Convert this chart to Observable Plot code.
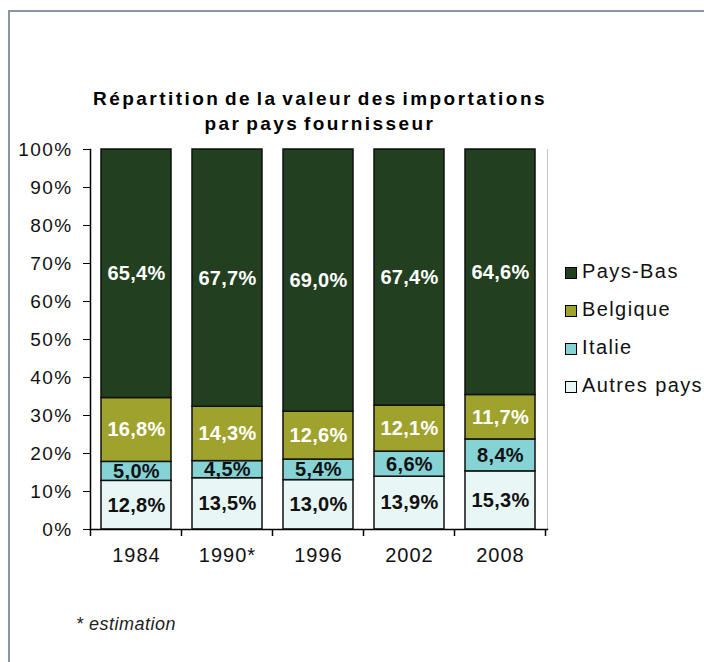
<!DOCTYPE html>
<html><head><meta charset="utf-8">
<script src="https://cdn.jsdelivr.net/npm/d3@7"></script>
<script src="https://cdn.jsdelivr.net/npm/@observablehq/plot@0.6"></script>
<style>
html,body{margin:0;padding:0;background:#fff;width:704px;height:662px;overflow:hidden;font-family:"Liberation Sans",Arial,sans-serif;}
#wrap{position:relative;width:704px;height:662px;overflow:hidden;}
#frame{position:absolute;left:8px;top:10px;width:900px;height:900px;border-left:2px solid #8b96a1;border-top:2px solid #8b96a1;}
#chart{position:absolute;left:0;top:0;}
#title{position:absolute;left:0;width:640px;top:86px;text-align:center;font-weight:bold;font-size:19px;line-height:25px;letter-spacing:2.45px;word-spacing:-3px;color:#000;}
#legend{position:absolute;left:565px;top:260px;}
.item{height:38px;display:flex;align-items:flex-start;white-space:nowrap;font-size:20px;letter-spacing:1.4px;color:#111;}
.sw{width:10px;height:10px;border:1px solid #000;margin-right:5px;margin-top:7px;flex:none;}
#caption{position:absolute;left:76px;top:614px;font-size:18px;font-style:italic;color:#222;letter-spacing:0.5px;}
</style></head>
<body><div id="wrap"><div id="frame"></div><div id="chart"></div>
<div id="title">Répartition de la valeur des importations<br>par pays fournisseur</div>
<div id="legend"></div>
<div id="caption">* estimation</div></div>
<script>
const years = ["1984", "1990*", "1996", "2002", "2008"];
const countries = ["Autres pays", "Italie", "Belgique", "Pays-Bas"];
const autres = [12.8, 13.5, 13.0, 13.9, 15.3];
const italie = [5.0, 4.5, 5.4, 6.6, 8.4];
const belgique = [16.8, 14.3, 12.6, 12.1, 11.7];
const paysBas = [65.4, 67.7, 69.0, 67.4, 64.6];
const colors = ["#e9f6f6", "#86d3d6", "#9fa32e", "#223f1f"];
const yTicks = [0, 10, 20, 30, 40, 50, 60, 70, 80, 90, 100];
const darkLabels = ["Autres pays", "Italie"];

const series = [autres, italie, belgique, paysBas];
const data = countries.flatMap((c, ci) => years.map((y, i) => ({year: y, country: c, value: series[ci][i]})));
const fmt = v => v.toFixed(1).replace(".", ",") + "%";

const plot = Plot.plot({
  width: 704, height: 600,
  marginTop: 149, marginBottom: 71, marginLeft: 90, marginRight: 157,
  x: {domain: years, paddingInner: 0.23, paddingOuter: 0.115, label: null},
  y: {domain: [0, 100], label: null},
  color: {domain: countries, range: colors},
  style: {fontFamily: "'Liberation Sans', Arial, sans-serif", color: "#111", background: "transparent"},
  marks: [
    Plot.barY(data, {x: "year", y: "value", fill: "country", stroke: "#111", strokeWidth: 1.5}),
    Plot.text(data, Plot.stackY({x: "year", y: "value", z: "country",
      text: d => darkLabels.includes(d.country) ? fmt(d.value) : "",
      fill: "#111", fontSize: 20, fontWeight: "bold"})),
    Plot.text(data, Plot.stackY({x: "year", y: "value", z: "country",
      text: d => darkLabels.includes(d.country) ? "" : fmt(d.value),
      fill: "#fff", fontSize: 20, fontWeight: "bold"})),
    Plot.frame({anchor: "right", stroke: "#c4c4c4"}),
    Plot.axisY({ticks: yTicks, tickFormat: d => d + "%", tickSize: 7, tickPadding: 11, fontSize: 19, stroke: "#000", label: null}),
    Plot.frame({anchor: "left", stroke: "#000", strokeWidth: 1.5}),
    Plot.frame({anchor: "bottom", stroke: "#000", strokeWidth: 1.5}),
    Plot.axisX({tickSize: 0, tickPadding: 18, fontSize: 20, label: null})
  ]
});
document.getElementById("chart").appendChild(plot);

// boundary ticks on the category axis, from the library's x scale
const sx = plot.scale("x");
const sy = plot.scale("y");
const gap = (sx.step - sx.bandwidth) / 2;
const bounds = years.map(y => sx.apply(y) - gap).concat([sx.apply(years[years.length - 1]) + sx.bandwidth + gap]);
const y0 = sy.apply(0);
d3.select(plot).append("g").selectAll("line").data(bounds).join("line")
  .attr("x1", d => d).attr("x2", d => d).attr("y1", y0).attr("y2", y0 + 7)
  .attr("stroke", "#000").attr("stroke-width", 1.5);

d3.select(plot).selectAll("g[aria-label='y-axis tick label'] text").attr("letter-spacing", "1.4");
d3.select(plot).selectAll("g[aria-label='x-axis tick label'] text").attr("letter-spacing", "1");
d3.select(plot).selectAll("g[aria-label='text'] text").attr("letter-spacing", "0.3");

const legend = d3.select("#legend");
countries.slice().reverse().forEach(c => {
  const it = legend.append("div").attr("class", "item");
  it.append("div").attr("class", "sw").style("background", colors[countries.indexOf(c)]);
  it.append("span").text(c);
});
</script></body></html>
